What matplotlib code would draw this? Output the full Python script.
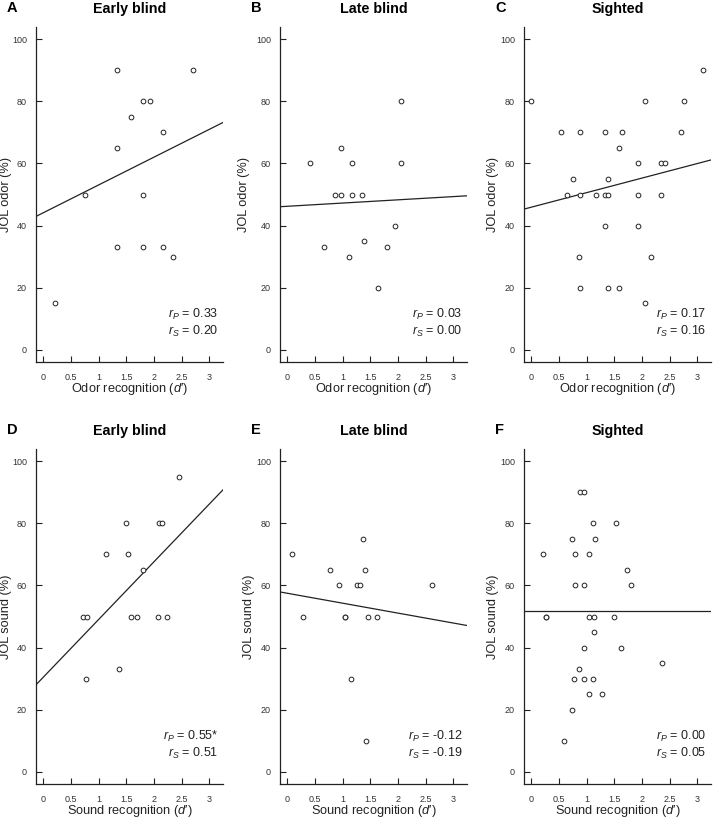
import matplotlib
matplotlib.use("Agg")
import matplotlib.pyplot as plt
import numpy as np

plt.rcParams['font.family'] = ['Liberation Sans', 'DejaVu Sans']
plt.rcParams['mathtext.fontset'] = 'custom'
plt.rcParams['mathtext.it'] = 'Liberation Sans:italic'
plt.rcParams['mathtext.rm'] = 'Liberation Sans'

# ---- data ----
a_x = [0.22, 0.75, 1.34, 1.34, 1.34, 1.59, 1.81, 1.93, 1.81, 1.81, 2.16, 2.16, 2.35, 2.70]
a_y = [15, 50, 90, 65, 33, 75, 80, 80, 50, 33, 70, 33, 30, 90]
a_fit = (44.1, 8.96)
a_stats = ("0.33", "0.20")

b_x = [0.41, 0.67, 0.86, 0.97, 0.97, 1.11, 1.18, 1.18, 1.35, 1.38, 1.64, 1.81, 1.94, 2.06, 2.06]
b_y = [60, 33, 50, 65, 50, 30, 60, 50, 50, 35, 20, 33, 40, 80, 60]
b_fit = (46.2, 1.04)
b_stats = ("0.03", "0.00")

c_x = [0.00, 0.53, 0.64, 0.75, 0.86, 0.88, 0.88, 0.88, 1.17, 1.34, 1.34, 1.34, 1.39, 1.39, 1.39,
       1.59, 1.59, 1.64, 1.93, 1.93, 1.93, 2.05, 2.05, 2.16, 2.35, 2.41, 2.35, 2.70, 2.77, 3.11]
c_y = [80, 70, 50, 55, 30, 70, 50, 20, 50, 70, 50, 40, 55, 50, 20,
       65, 20, 70, 60, 50, 40, 80, 15, 30, 60, 60, 50, 70, 80, 90]
c_fit = (45.9, 4.69)
c_stats = ("0.17", "0.16")

d_x = [0.72, 0.80, 0.77, 1.14, 1.37, 1.49, 1.54, 1.59, 1.69, 1.81, 2.08, 2.10, 2.14, 2.23, 2.46]
d_y = [50, 50, 30, 70, 33, 80, 70, 50, 50, 65, 50, 80, 80, 50, 95]
d_fit = (30.4, 18.6)
d_stats = ("0.55*", "0.51")

e_x = [0.09, 0.28, 0.77, 0.93, 1.05, 1.05, 1.16, 1.26, 1.31, 1.37, 1.40, 1.42, 1.46, 1.62, 2.61]
e_y = [70, 50, 65, 60, 50, 50, 30, 60, 60, 75, 65, 10, 50, 50, 60]
e_fit = (57.5, -3.2)
e_stats = ("-0.12", "-0.19")

f_x = [0.22, 0.26, 0.26, 0.60, 0.73, 0.73, 0.77, 0.79, 0.80, 0.86, 0.89, 0.96, 0.95, 0.96, 0.96,
       1.04, 1.05, 1.05, 1.11, 1.11, 1.14, 1.14, 1.16, 1.28, 1.49, 1.54, 1.63, 1.73, 1.81, 2.36]
f_y = [70, 50, 50, 10, 75, 20, 30, 70, 60, 33, 90, 90, 60, 30, 40,
       70, 50, 25, 80, 30, 50, 45, 75, 25, 50, 80, 40, 65, 60, 35]
f_fit = (51.8, 0.0)
f_stats = ("0.00", "0.05")

letters = ["A", "B", "C", "D", "E", "F"]
titles = ["Early blind", "Late blind", "Sighted", "Early blind", "Late blind", "Sighted"]
xlabels = ["Odor recognition ($d$\u2032)"] * 3 + ["Sound recognition ($d$\u2032)"] * 3
ylabels = ["JOL odor (%)"] * 3 + ["JOL sound (%)"] * 3
xticks = [0, 0.5, 1, 1.5, 2, 2.5, 3]
xticklabels = ["0", "0.5", "1", "1.5", "2", "2.5", "3"]
yticks = [0, 20, 40, 60, 80, 100]

panels = [(a_x, a_y, a_fit, a_stats), (b_x, b_y, b_fit, b_stats), (c_x, c_y, c_fit, c_stats),
          (d_x, d_y, d_fit, d_stats), (e_x, e_y, e_fit, e_stats), (f_x, f_y, f_fit, f_stats)]

# ---- layout ----
W, H = 713, 819
fig = plt.figure(figsize=(W / 100, H / 100), dpi=100)
col_left = [36, 280, 524]
ax_w = 187
row_top = [27, 449]
row_bot = [362, 784]
ylab_off = [-24, -30, -25, -24, -25, -25]   # px from left spine to y-label centre
XLIM = (-0.13, 3.25)
YLIM = (-4, 104)

ink = "#222222"
tick_ink = "#333333"
for i, (xs, ys, fit, stats) in enumerate(panels):
    r, c = divmod(i, 3)
    l = col_left[c]
    t, b = row_top[r], row_bot[r]
    ax = fig.add_axes([l / W, 1 - b / H, ax_w / W, (b - t) / H])
    ax.plot(xs, ys, 'o', mfc='white', mec=ink, ms=3.4, mew=0.7, zorder=3)
    lx = np.array(XLIM)
    ax.plot(lx, fit[0] + fit[1] * lx, color=ink, lw=0.9, zorder=2)
    ax.set_xlim(*XLIM)
    ax.set_ylim(*YLIM)
    for s in ['top', 'right']:
        ax.spines[s].set_visible(False)
    for s in ['left', 'bottom']:
        ax.spines[s].set_linewidth(0.9)
        ax.spines[s].set_color(ink)
    ax.set_xticks(xticks)
    ax.set_xticklabels(xticklabels)
    ax.set_yticks(yticks)
    ax.tick_params(direction='in', length=4, width=0.8, color=ink, labelcolor=tick_ink,
                   labelsize=6.5)
    ax.tick_params(axis='x', pad=8)
    ax.tick_params(axis='y', pad=6.5)
    ax.set_xlabel(xlabels[i], fontsize=9.2, color=ink, labelpad=-0.5)
    ax.set_ylabel(ylabels[i], fontsize=9.2, color=ink)
    ax.yaxis.set_label_coords(ylab_off[i] / ax_w, 0.5)
    ax.set_title(titles[i], fontsize=10.3, fontweight='bold', pad=0, y=1 + 14 / (b - t))
    fig.text((l - 29) / W, 1 - (t - 19) / H, letters[i], fontsize=10.5, fontweight='bold',
             ha='left', va='center')
    ax.text(3.17, 11.3, r"$r_P$ = " + stats[0], fontsize=9, ha='right', va='center', color=ink)
    ax.text(3.17, 5.8, r"$r_S$ = " + stats[1], fontsize=9, ha='right', va='center', color=ink)

fig.savefig("out.png", dpi=100, facecolor='white')
